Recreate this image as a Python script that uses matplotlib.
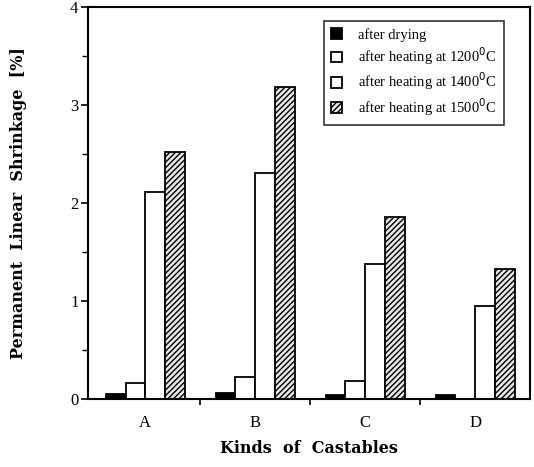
import numpy as np
import matplotlib
matplotlib.use('Agg')
import matplotlib.pyplot as plt
from matplotlib.ticker import MultipleLocator

plt.rcParams['font.family'] = ['Liberation Serif', 'DejaVu Serif']
plt.rcParams['hatch.linewidth'] = 1.0

# shrinkage data per castable
castables = ['A', 'B', 'C', 'D']
after_drying = [0.05, 0.06, 0.04, 0.04]
heat_1200 = [0.17, 0.23, 0.19, 0.0]
heat_1400 = [2.11, 2.31, 1.38, 0.95]
heat_1500 = [2.52, 3.18, 1.86, 1.33]
series_labels = ['after drying', 'after heating at 1200$^{0}$C',
                 'after heating at 1400$^{0}$C', 'after heating at 1500$^{0}$C']

fig = plt.figure(figsize=(5.34, 4.67), dpi=100)
ax = fig.add_axes([0.165, 0.145, 0.828, 0.84])

x = np.arange(len(castables))
w = 0.18
styles = [dict(color='black', edgecolor='black'),
          dict(color='white', edgecolor='black'),
          dict(color='white', edgecolor='black'),
          dict(color='#e8e8e8', edgecolor='black', hatch='//////')]
for i, (vals, lab, st) in enumerate(zip([after_drying, heat_1200, heat_1400, heat_1500],
                                        series_labels, styles)):
    ax.bar(x + (i - 1.5) * w, vals, w, label=lab, linewidth=1.3, **st)

ax.set_xlim(-0.52, 3.5)
ax.set_ylim(0, 4)
ax.set_xticks(x)
ax.set_xticklabels(castables)
ax.set_xticks(x[:-1] + 0.5, minor=True)
ax.yaxis.set_major_locator(MultipleLocator(1))
ax.yaxis.set_minor_locator(MultipleLocator(0.5))
ax.tick_params(axis='x', which='major', length=0, pad=11, labelsize=12)
ax.tick_params(axis='x', which='minor', length=4, width=1.2, direction='out')
ax.tick_params(axis='y', which='major', length=5, width=1.2, labelsize=12, pad=2)
ax.tick_params(axis='y', which='minor', length=4, width=1.0)
for s in ax.spines.values():
    s.set_linewidth(1.5)

ax.set_ylabel('Permanent  Linear  Shrinkage  [%]', fontsize=11.5,
              fontweight='bold', family='DejaVu Serif', labelpad=31)
ax.set_xlabel('Kinds  of  Castables', fontsize=11.5, fontweight='bold',
              family='DejaVu Serif', labelpad=7)

leg = ax.legend(loc='upper right', bbox_to_anchor=(0.94, 0.965), fontsize=10.5,
                frameon=True, fancybox=False, edgecolor='black',
                handlelength=0.75, handleheight=0.75, labelspacing=0.25,
                handletextpad=1.1, borderpad=0.5, borderaxespad=0)
leg.get_frame().set_linewidth(1.2)

fig.savefig('out.png', dpi=100)
